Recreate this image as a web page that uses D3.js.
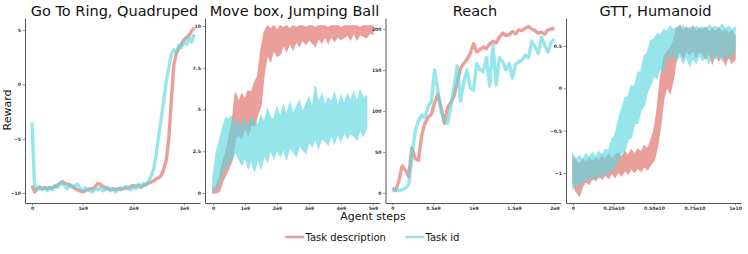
<!DOCTYPE html>
<html>
<head>
<meta charset="utf-8">
<script src="https://cdn.jsdelivr.net/npm/d3@7"></script>
<style>
  body { margin: 0; background: #fff; }
  svg { font-family: "DejaVu Sans", sans-serif; }
</style>
</head>
<body>
<svg id="viz" width="748" height="254"></svg>
<script>
// ---- data (x in units of 1e9 agent steps) ----
const titles = ["Go To Ring, Quadruped", "Move box, Jumping Ball", "Reach", "GTT, Humanoid"];

// Go To Ring, Quadruped
const ringSteps = [0,0.05,0.1,0.15,0.2,0.25,0.3,0.35,0.4,0.45,0.5,0.55,0.6,0.65,0.7,0.75,0.8,0.85,0.9,0.95,
  1,1.05,1.1,1.15,1.2,1.25,1.3,1.35,1.4,1.45,1.5,1.55,1.6,1.65,1.7,1.75,1.8,1.85,1.9,1.95,
  2,2.05,2.1,2.15,2.2,2.25,2.3,2.35,2.4,2.45,2.5,2.55,2.6,2.65,2.7,2.75,2.8,2.85,2.9,2.95,
  3,3.05,3.1,3.15,3.2];
const ringDesc = [-9.3,-9.9,-9.6,-9.5,-9.6,-9.5,-9.6,-9.5,-9.55,-9.4,-9.3,-9.1,-8.95,-9.1,-9.2,-9.3,-9.4,-9.6,-9.7,-9.8,
  -9.9,-9.8,-9.7,-9.6,-9.6,-9.4,-9.1,-9.2,-9.4,-9.5,-9.6,-9.7,-9.6,-9.7,-9.6,-9.7,-9.6,-9.5,-9.6,-9.4,
  -9.3,-9.4,-9.3,-9.5,-9.3,-9.2,-9.1,-9.0,-8.9,-8.7,-8.6,-8.4,-7.8,-7.0,-5.0,-1.5,1.8,2.9,3.3,3.7,
  4.1,4.3,4.5,4.9,5.2];
const ringId = [-3.5,-9.2,-9.7,-9.4,-9.7,-9.5,-9.8,-9.5,-9.7,-9.3,-9.5,-9.2,-9.0,-9.4,-9.6,-9.2,-9.5,-9.3,-9.2,-9.6,
  -9.8,-9.5,-9.7,-9.8,-9.9,-9.6,-9.7,-9.5,-9.8,-9.7,-9.5,-9.8,-9.6,-9.9,-9.7,-9.5,-9.6,-9.4,-9.5,-9.7,
  -9.4,-9.6,-9.2,-9.4,-9.1,-9.3,-8.9,-8.5,-7.8,-6.5,-4.8,-3.2,-1.5,0.3,1.5,2.8,3.2,2.9,3.6,3.4,
  4.0,3.7,4.3,3.9,4.6];

// Move box, Jumping Ball (noisy: low / high envelope)
const boxDescSteps = [0,0.1,0.2,0.3,0.4,0.5,0.6,0.7,0.8,0.9,1,1.1,1.2,1.3,1.4,1.5,1.6,1.7,1.8,1.9,
  2,2.1,2.2,2.3,2.4,2.5,2.6,2.7,2.8,2.9,3,3.1,3.2,3.3,3.4,3.5,3.6,3.7,3.8,3.9,
  4,4.1,4.2,4.3,4.4,4.5,4.6,4.7,4.8,4.9,5];
const boxDescLo = [0,0,0.1,0.7,1.1,1.5,2.0,3.3,3.5,3.3,3.9,3.5,4.1,4.0,4.7,5.3,7.2,8.3,7.9,8.6,
  8.2,8.3,8.9,8.5,9.0,8.6,9.1,8.8,9.2,8.9,9.2,9.0,8.8,9.3,9.0,9.4,9.0,9.4,9.1,9.4,
  9.2,9.3,9.5,9.2,9.6,9.2,9.5,9.4,9.3,9.6,9.5];
const boxDescHi = [0.3,0.4,0.9,1.8,2.4,3.3,4.2,6.0,5.4,5.9,5.6,6.1,6.0,6.6,7.0,8.6,9.6,10,9.8,10,
  9.7,10,9.9,10,9.8,10,9.9,10,10,9.9,10,10,9.9,10,10,10,9.9,10,10,10,
  9.9,10,10,10,10,10,9.9,10,10,10,10];
const boxIdSteps = [0,0.1,0.2,0.3,0.4,0.5,0.6,0.7,0.8,0.9,1,1.1,1.2,1.3,1.4,1.5,1.6,1.7,1.8,1.9,
  2,2.1,2.2,2.3,2.4,2.5,2.6,2.7,2.8,2.9,3,3.1,3.2,3.3,3.4,3.5,3.6,3.7,3.8,3.9,
  4,4.1,4.2,4.3,4.4,4.5,4.6,4.7,4.8];
const boxIdLo = [0.1,0.3,0.7,1.3,1.5,1.9,2.0,2.5,2.1,1.7,2.2,1.5,2.0,1.3,2.1,1.5,2.3,1.9,2.6,2.1,
  2.6,2.2,2.7,2.0,2.8,2.5,2.2,2.9,2.6,2.4,3.1,2.8,3.3,2.7,3.3,3.1,2.9,3.5,3.0,3.6,
  3.1,3.7,3.3,3.6,3.4,3.2,3.8,3.4,3.9];
const boxIdHi = [0.9,2.4,3.1,3.9,4.5,4.4,4.6,3.8,4.3,3.9,4.4,3.8,4.5,4.2,4.1,4.6,4.2,5.0,4.5,4.4,
  5.1,4.5,5.2,4.6,5.4,4.7,5.1,5.5,4.8,5.3,5.7,5.0,6.4,5.3,5.9,5.2,5.7,5.4,6.0,5.1,
  5.8,5.3,5.9,5.5,6.0,5.4,6.1,5.7,5.8];

// Reach
const reachSteps = [0,0.04,0.08,0.12,0.16,0.2,0.24,0.28,0.32,0.36,0.4,0.44,0.48,0.52,0.56,0.6,0.64,0.68,0.72,0.76,
  0.8,0.84,0.88,0.92,0.96,1,1.04,1.08,1.12,1.16,1.2,1.24,1.28,1.32,1.36,1.4,1.44,1.48,1.52,1.56,
  1.6,1.64,1.68,1.72,1.76,1.8,1.84,1.88,1.92,1.96,2];
const reachDesc = [6,3,15,33,28,20,55,42,40,70,85,92,96,110,120,105,85,104,110,118,
  135,152,158,163,170,182,172,175,178,176,182,185,183,190,195,192,193,197,194,199,
  198,201,203,200,198,195,196,194,199,200,201];
const reachId = [2,5,3,4,6,10,45,75,88,95,92,105,112,150,125,100,88,85,105,130,
  155,112,135,150,128,125,158,150,148,165,130,180,132,165,160,150,158,140,157,160,
  162,168,165,185,178,170,190,180,172,184,188];

// GTT, Humanoid (noisy: low / high envelope), x in units of 1e9
const gttSteps = [0,0.2,0.4,0.6,0.8,1,1.2,1.4,1.6,1.8,2,2.2,2.4,2.6,2.8,3,3.2,3.4,3.6,3.8,
  4,4.2,4.4,4.6,4.8,5,5.2,5.4,5.6,5.8,6,6.2,6.4,6.6,6.8,7,7.2,7.4,7.6,7.8,
  8,8.2,8.4,8.6,8.8,9,9.2,9.4,9.6,9.8,10];
const gttDescLo = [-1.12,-1.22,-1.27,-1.15,-1.1,-1.13,-1.05,-1.09,-1.03,-1.07,-1.02,-1.06,-1.0,-1.05,-0.98,-1.03,-0.97,-1.01,-0.95,-0.99,
  -0.94,-0.98,-0.92,-0.96,-0.9,-0.85,-0.7,-0.45,-0.12,0.02,-0.05,0.12,0.38,0.44,0.36,0.45,0.4,0.46,0.37,0.44,
  0.41,0.35,0.43,0.3,0.41,0.33,0.4,0.28,0.38,0.3,0.34];
const gttDescHi = [-0.82,-0.86,-0.9,-0.84,-0.88,-0.83,-0.87,-0.82,-0.86,-0.8,-0.85,-0.78,-0.84,-0.79,-0.77,-0.82,-0.75,-0.8,-0.73,-0.78,
  -0.72,-0.76,-0.68,-0.72,-0.62,-0.5,-0.25,0.12,0.36,0.43,0.47,0.55,0.7,0.74,0.67,0.72,0.68,0.73,0.66,0.71,
  0.69,0.72,0.66,0.7,0.67,0.71,0.65,0.69,0.64,0.68,0.62];
const gttIdLo = [-1.18,-1.12,-1.16,-1.08,-1.1,-1.04,-1.08,-1.02,-1.06,-1.0,-1.03,-0.95,-0.99,-0.9,-0.86,-0.76,-0.74,-0.6,-0.58,-0.42,
  -0.41,-0.25,-0.2,-0.04,0.05,0.15,0.12,0.25,0.2,0.42,0.35,0.42,0.32,0.4,0.3,0.38,0.27,0.36,0.3,0.4,
  0.33,0.38,0.3,0.39,0.35,0.4,0.33,0.41,0.36,0.4,0.42];
const gttIdHi = [-0.78,-0.84,-0.8,-0.85,-0.78,-0.82,-0.76,-0.81,-0.75,-0.79,-0.72,-0.74,-0.6,-0.56,-0.38,-0.25,-0.12,-0.1,0.03,0.02,
  0.18,0.2,0.38,0.42,0.56,0.58,0.64,0.63,0.69,0.67,0.73,0.69,0.72,0.7,0.74,0.69,0.72,0.68,0.73,0.7,
  0.72,0.69,0.74,0.71,0.73,0.7,0.75,0.7,0.73,0.69,0.72];

// axes: ticks and limits
const xTicks = [[0,1,2,3],[0,1,2,3,4,5],[0,0.5,1,1.5,2],[0,2.5,5,7.5,10]];
const xTickLabels = [["0","1e9","2e9","3e9"],["0","1e9","2e9","3e9","4e9","5e9"],
  ["0","0.5e9","1e9","1.5e9","2e9"],["0","0.25e10","0.50e10","0.75e10","1e10"]];
const yTicks = [[-10,-5,0,5],[0,2.5,5,7.5,10],[0,50,100,150,200],[-1,-0.5,0,0.5]];
const yTickLabels = [["\u221210","\u22125","0","5"],["0","2.5","5","7.5","10"],
  ["0","50","100","150","200"],["\u22121","\u22120.5","0","0.5"]];
const xLims = [[-0.138,3.316],[-0.25,5.22],[-0.086,2.074],[-0.43,10.37]];
const yLims = [[-10.92,6.1],[-0.6,10.48],[-12.2,213.4],[-1.354,0.83]];

const seriesNames = ["Task description", "Task id"];
const colors = ["#e06c66", "#5dd8df"];

// ---- layout ----
const svg = d3.select("#viz");
const panelLeft = [25, 205, 385.5, 566];
const panelW = 175, plotTop = 18, plotBottom = 203;

const panels = [
  {lines: [[ringSteps, ringDesc], [ringSteps, ringId]]},
  {bands: [[boxDescSteps, boxDescLo, boxDescHi], [boxIdSteps, boxIdLo, boxIdHi]]},
  {lines: [[reachSteps, reachDesc], [reachSteps, reachId]]},
  {bands: [[gttSteps, gttDescLo, gttDescHi], [gttSteps, gttIdLo, gttIdHi]]}
];

panels.forEach((p, i) => {
  const x = d3.scaleLinear().domain(xLims[i]).range([panelLeft[i], panelLeft[i] + panelW]);
  const y = d3.scaleLinear().domain(yLims[i]).range([plotBottom, plotTop]);
  const g = svg.append("g");

  if (p.lines) {
    p.lines.forEach((s, k) => {
      const line = d3.line().x((d, j) => x(s[0][j])).y((d) => y(d));
      g.append("path")
        .datum(s[1])
        .attr("d", line)
        .attr("fill", "none")
        .attr("stroke", colors[k])
        .attr("stroke-width", 3.4)
        .attr("stroke-linejoin", "round")
        .attr("opacity", 0.65);
    });
  }
  if (p.bands) {
    p.bands.forEach((s, k) => {
      const area = d3.area()
        .x((d, j) => x(s[0][j]))
        .y0((d, j) => y(s[1][j]))
        .y1((d, j) => y(s[2][j]));
      g.append("path")
        .datum(s[1])
        .attr("d", area)
        .attr("fill", colors[k])
        .attr("stroke", colors[k])
        .attr("stroke-width", 1.5)
        .attr("stroke-linejoin", "miter")
        .attr("opacity", 0.65);
    });
  }

  const xAxis = d3.axisBottom(x).tickValues(xTicks[i])
    .tickFormat((d, j) => xTickLabels[i][j]).tickSizeInner(2.5).tickSizeOuter(0).tickPadding(1.5);
  const yAxis = d3.axisLeft(y).tickValues(yTicks[i])
    .tickFormat((d, j) => yTickLabels[i][j]).tickSizeInner(2.5).tickSizeOuter(0).tickPadding(1.5);

  const gx = g.append("g").attr("transform", `translate(0,${plotBottom})`).call(xAxis);
  const gy = g.append("g").attr("transform", `translate(${panelLeft[i]},0)`).call(yAxis);
  [gx, gy].forEach((a) => {
    a.select(".domain").attr("stroke", "#555").attr("stroke-width", 1);
    a.selectAll(".tick line").attr("stroke", "#555").attr("stroke-width", 0.6);
    a.selectAll(".tick text").attr("font-size", 4.6).attr("fill", "#333")
      .attr("font-family", "DejaVu Sans").attr("font-weight", "bold");
  });

  svg.append("text")
    .attr("x", panelLeft[i] + panelW / 2 + 2)
    .attr("y", 16)
    .attr("text-anchor", "middle")
    .attr("font-size", 14.5)
    .attr("fill", "#111")
    .text(titles[i]);
});

svg.append("text")
  .attr("transform", "translate(11,110) rotate(-90)")
  .attr("text-anchor", "middle")
  .attr("font-size", 11)
  .attr("fill", "#111")
  .text("Reward");

svg.append("text")
  .attr("x", 373)
  .attr("y", 220)
  .attr("text-anchor", "middle")
  .attr("font-size", 11)
  .attr("fill", "#111")
  .text("Agent steps");

// legend
const legendX = [285, 405];
seriesNames.forEach((name, k) => {
  const lg = svg.append("g").attr("transform", `translate(${legendX[k]},237)`);
  lg.append("line").attr("x1", 0).attr("x2", 19).attr("y1", 0).attr("y2", 0)
    .attr("stroke", colors[k]).attr("stroke-width", 2.5).attr("opacity", 0.65);
  lg.append("text").attr("x", 20.5).attr("y", 3.6)
    .attr("font-size", 10).attr("fill", "#111").text(name);
});
</script>
</body>
</html>
